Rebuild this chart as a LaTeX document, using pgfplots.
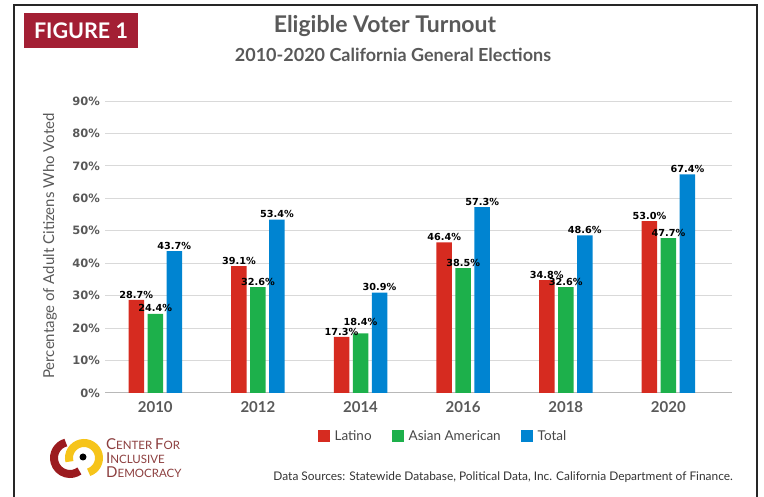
\documentclass[border=0pt]{standalone}
\usepackage{fontspec}
\setmainfont{Lato}
\newfontfamily\dejavu{DejaVu Sans}
\usepackage{pgfplots}
\pgfplotsset{compat=1.18}
\definecolor{latred}{RGB}{214,43,32}
\definecolor{asgreen}{RGB}{29,176,75}
\definecolor{totblue}{RGB}{0,132,209}
\definecolor{titlegray}{RGB}{89,89,89}
\definecolor{figred}{RGB}{163,31,52}
\definecolor{logored}{RGB}{155,27,31}
\definecolor{logoyel}{RGB}{246,196,26}
\definecolor{logotext}{RGB}{140,62,62}
\newcommand{\bigc}[1]{{\fontsize{15bp}{16bp}\selectfont #1}}
\begin{document}
\begin{tikzpicture}
\begin{scope}[x=1bp,y=1bp]
\useasboundingbox (0,0) rectangle (764,497);
\draw[line width=2bp, black!85] (14,-3) -- (14,492) -- (757,492) -- (757,-3);
\fill[figred] (24,449) rectangle (138,484);
\node[text=white, font=\bfseries\fontsize{21.5bp}{24bp}\selectfont] at (81,466.5) {FIGURE 1};
\node[text=titlegray, font=\bfseries\fontsize{23bp}{26bp}\selectfont] at (385,471) {Eligible Voter Turnout};
\node[text=titlegray, font=\bfseries\fontsize{18bp}{21bp}\selectfont] at (393,442) {2010-2020 California General Elections};
\node[rotate=90, text=titlegray, font=\fontsize{15bp}{17bp}\selectfont] at (50,251) {Percentage of Adult Citizens Who Voted};
% logo
\draw[logored, line width=8bp] (70,39) ++(105:16) arc[start angle=105, end angle=306, radius=16];
\draw[logoyel, line width=8bp] (84,39) ++(194:15) arc[start angle=194, end angle=-72, radius=15];
\fill[black] (83,40) circle (3.5);
\node[anchor=base west, text=logotext, inner sep=0pt, font=\fontsize{11.5bp}{12bp}\selectfont] at (106,47) {\bigc{C}ENTER \bigc{F}OR};
\node[anchor=base west, text=logotext, inner sep=0pt, font=\fontsize{11.5bp}{12bp}\selectfont] at (106,33) {\bigc{I}NCLUSIVE};
\node[anchor=base west, text=logotext, inner sep=0pt, font=\fontsize{11.5bp}{12bp}\selectfont] at (106,19) {\bigc{D}EMOCRACY};
\node[anchor=east, text=black!80, inner sep=0pt, font=\fontsize{11.9bp}{13bp}\selectfont] at (733,20) {Data Sources: Statewide Database, Political Data, Inc. California Department of Finance.};
\end{scope}
\begin{axis}[
  at={(105bp,104bp)}, anchor=south west,
  scale only axis, width=627bp, height=292bp,
  xmin=-0.49, xmax=5.62, ymin=0, ymax=90,
  ybar=3.5bp, bar width=15.5bp,
  axis line style={draw=none},
  major tick length=0pt,
  ymajorgrids, grid style={black!15, line width=0.9bp},
  ytick={10,20,...,90},
  yticklabels={10\%,20\%,30\%,40\%,50\%,60\%,70\%,80\%,90\%},
  extra y ticks={0}, extra y tick labels={0\%},
  extra y tick style={grid style={black!28, line width=1bp}},
  yticklabel style={font=\dejavu\bfseries\fontsize{11.5bp}{13bp}\selectfont, text=titlegray, anchor=east, inner sep=1bp, xshift=-4bp},
  xtick={0,...,5},
  xticklabels={2010,2012,2014,2016,2018,2020},
  xticklabel style={font=\bfseries\fontsize{15bp}{17bp}\selectfont, text=titlegray, yshift=-5bp},
  /pgf/number format/assume math mode=true,
  point meta=y,
  visualization depends on={value \coordindex \as \ci},
  nodes near coords={\pgfmathprintnumber[fixed,fixed zerofill,precision=1]{\pgfplotspointmeta}\%},
  every node near coord/.append style={font=\dejavu\bfseries\fontsize{9.7bp}{11bp}\selectfont, text=black, inner sep=0.3bp, yshift=1.2bp},
  legend image code/.code={\fill[#1,draw=none] (0bp,-6bp) rectangle (12bp,6bp);},
  legend style={at={(0.539,-0.147)}, anchor=center, draw=none, fill=none, legend columns=-1,
    font=\fontsize{13.5bp}{15bp}\selectfont, text=titlegray!80!black,
    /tikz/every odd column/.append style={column sep=3bp},
    /tikz/every even column/.append style={column sep=18bp}},
]
\addplot[fill=latred, draw=none] coordinates {(0,28.7) (1,39.1) (2,17.3) (3,46.4) (4,34.8) (5,53.0)};
\addplot[fill=asgreen, draw=none,
  nodes near coords={\ifnum\ci=2 \raisebox{6bp}{\pgfmathprintnumber[fixed,fixed zerofill,precision=1]{\pgfplotspointmeta}\%}\else\pgfmathprintnumber[fixed,fixed zerofill,precision=1]{\pgfplotspointmeta}\%\fi}]
  coordinates {(0,24.4) (1,32.6) (2,18.4) (3,38.5) (4,32.6) (5,47.7)};
\addplot[fill=totblue, draw=none] coordinates {(0,43.7) (1,53.4) (2,30.9) (3,57.3) (4,48.6) (5,67.4)};
\legend{Latino, Asian American, Total}
\end{axis}
\end{tikzpicture}
\end{document}
